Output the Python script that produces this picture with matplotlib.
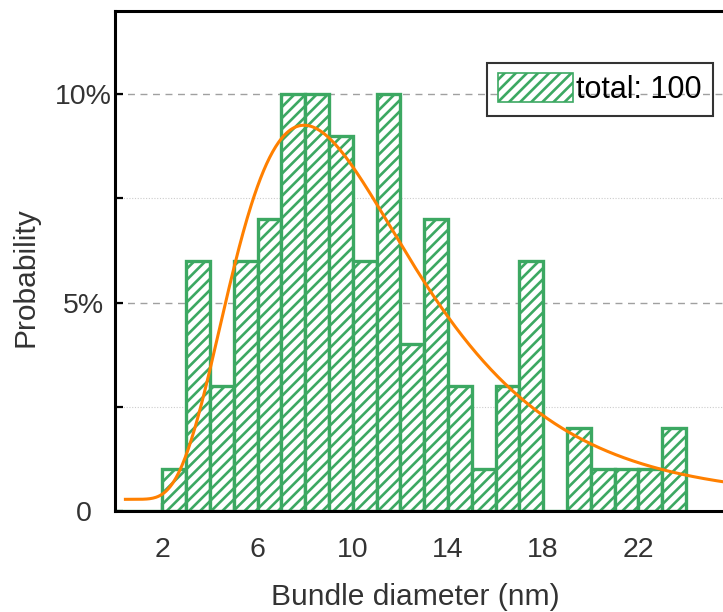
import numpy as np
import matplotlib
matplotlib.use("Agg")
import matplotlib.pyplot as plt
from matplotlib.patches import Patch
from matplotlib.ticker import FixedLocator, NullFormatter, FixedFormatter

# Histogram of bundle diameters (1 nm bins), probability in percent
bin_left = list(range(0, 24))
probability = [0, 0, 1, 6, 3, 6, 7, 10, 10, 9, 6, 10, 4, 7, 3, 1, 3, 6, 0, 2, 1, 1, 1, 2]
legend_label = "total: 100"

# Log-normal fit: y0 + A/(sqrt(2*pi)*w*x) * exp(-ln(x/xc)^2 / (2 w^2))
fit_y0 = 0.28
fit_xc = 9.94
fit_w = 0.472
fit_A = 94.4

x_ticks_labeled = [2, 6, 10, 14, 18, 22]
x_ticks_minor = [4, 8, 12, 16, 20, 24]
y_ticks = [0, 5, 10]
y_tick_labels = ["0", "5%", "10%"]
y_ticks_minor = [2.5, 7.5]

green = "#3ca862"
orange = "#ff8000"
text_gray = "#333333"

plt.rcParams["font.family"] = ["Liberation Sans", "DejaVu Sans"]
plt.rcParams["hatch.linewidth"] = 1.9

fig = plt.figure(figsize=(7.23, 6.12), dpi=100)
ax = fig.add_axes([114.7 / 723, 1 - 511 / 612, (733.5 - 114.7) / 723, (511 - 10.7) / 612])

ax.bar(bin_left, probability, width=1.0, align="edge", facecolor="white",
       edgecolor=green, hatch="///", linewidth=2.4, zorder=2)

xs = np.linspace(0.45, 26, 600)
ys = fit_y0 + fit_A / (np.sqrt(2 * np.pi) * fit_w * xs) * np.exp(-np.log(xs / fit_xc) ** 2 / (2 * fit_w ** 2))
ax.plot(xs, ys, color=orange, linewidth=2.2, zorder=3)

ax.set_xlim(0, 26)
ax.set_ylim(0, 12)

ax.xaxis.set_major_locator(FixedLocator(x_ticks_labeled))
ax.xaxis.set_minor_locator(FixedLocator(x_ticks_minor))
ax.xaxis.set_minor_formatter(NullFormatter())
ax.yaxis.set_major_locator(FixedLocator(y_ticks))
ax.yaxis.set_major_formatter(FixedFormatter(y_tick_labels))
ax.yaxis.set_minor_locator(FixedLocator(y_ticks_minor))
ax.yaxis.set_minor_formatter(NullFormatter())

ax.tick_params(which="both", direction="in", length=5.8, width=1.6, color="black",
               labelsize=20.5, labelcolor=text_gray)
ax.tick_params(axis="x", which="major", pad=18.5)
ax.tick_params(axis="y", which="major", pad=22.3)
for lbl in ax.get_yticklabels():
    lbl.set_horizontalalignment("center")
ax.tick_params(top=False, right=False)

ax.set_axisbelow(True)
ax.yaxis.grid(True, which="major", linestyle=(0, (5, 4)), color="#a0a0a0", linewidth=1.0, zorder=0)
ax.yaxis.grid(True, which="minor", linestyle=(0, (1, 1.5)), color="#cccccc", linewidth=0.8, zorder=0)

for sp in ax.spines.values():
    sp.set_linewidth(2.2)
    sp.set_color("black")
    sp.set_zorder(4)

ax.set_xlabel("Bundle diameter (nm)", fontsize=21.6, color=text_gray)
ax.xaxis.set_label_coords(0.485, -0.143)
ax.set_ylabel("Probability", fontsize=21.6, color=text_gray)
ax.yaxis.set_label_coords(-0.1212, 0.468)

handle = Patch(facecolor="white", edgecolor=green, hatch="///", linewidth=1.2)
leg = ax.legend([handle], [legend_label], loc="upper left", bbox_to_anchor=(0.6017, 0.896),
                borderaxespad=0, fontsize=22, handlelength=2.45, handleheight=1.08,
                handletextpad=0.12, borderpad=0.35, fancybox=False, edgecolor="black",
                frameon=True)
leg.get_frame().set_facecolor("none")
leg.get_frame().set_linewidth(1.5)
leg.set_zorder(5)

fig.savefig("out.png", dpi=100)
